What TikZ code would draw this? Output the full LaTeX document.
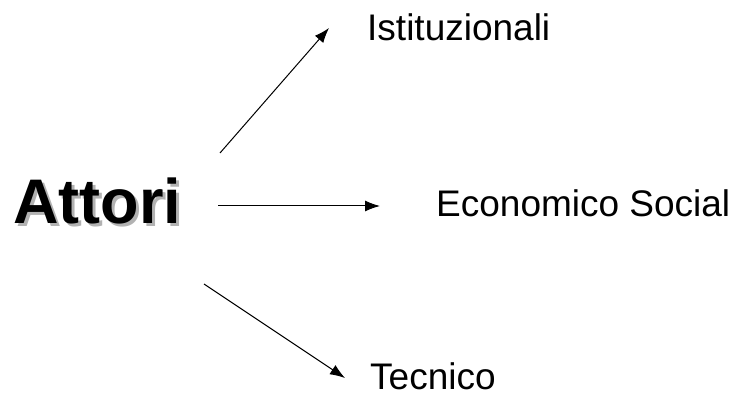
\documentclass[tikz,border=0pt]{standalone}
\usepackage{fontspec}
\setmainfont{Liberation Sans}
\usetikzlibrary{arrows.meta}

\begin{document}
\begin{tikzpicture}[x=1pt, y=-1pt,
		label/.style={anchor=base west, inner sep=0pt, font=\fontsize{37}{40}\selectfont},
		titolo/.style={anchor=base west, inner sep=0pt, font=\fontsize{63}{70}\selectfont\bfseries},
		freccia/.style={-{Latex[length=15pt, width=11pt]}, line width=1pt}
	]
				\useasboundingbox (0,0) rectangle (736,398);
				% titolo con ombra
				\node[titolo, gray!60] (ombra) at (16,226) {Attori};
				\node[titolo] (attori) at (13,223) {Attori};
				% categorie
				\node[label] (ist) at (367,41) {Istituzionali};
				\node[label] (eco) at (436,217) {Economico Social};
				\node[label] (tec) at (370,389) {Tecnico};
				% estremi delle frecce
				\coordinate (s1) at (220,153);
				\coordinate (t1) at (329,28);
				\coordinate (s2) at (218,206);
				\coordinate (t2) at (380,206);
				\coordinate (s3) at (204,284);
				\coordinate (t3) at (345,378);
				\draw[freccia] (s1) -- (t1);
				\draw[freccia] (s2) -- (t2);
				\draw[freccia] (s3) -- (t3);
			\end{tikzpicture}
\end{document}
